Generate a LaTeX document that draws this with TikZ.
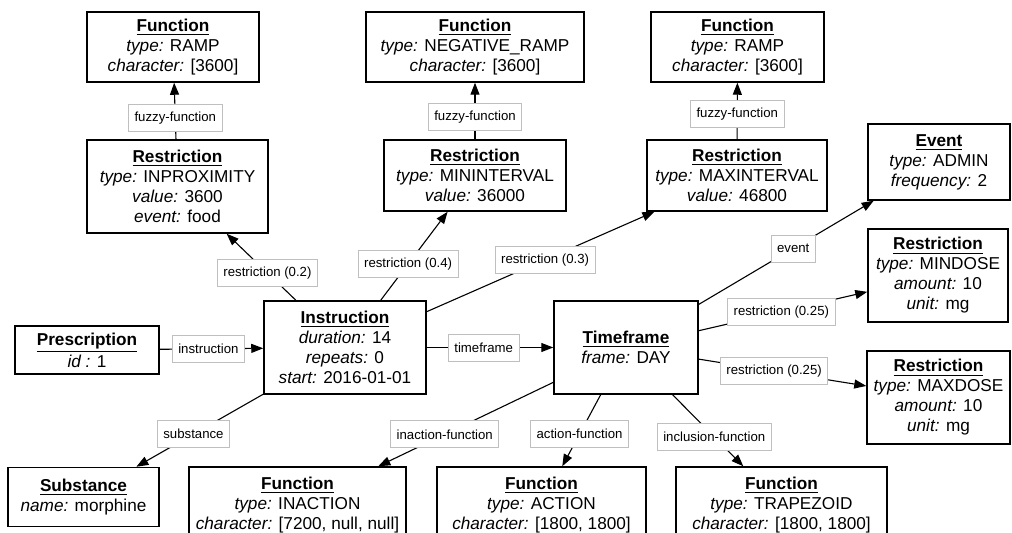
\documentclass[tikz,border=0pt]{standalone}
\usepackage{fontspec}
\setmainfont{Liberation Sans}
\usetikzlibrary{arrows.meta}

\newcommand{\head}[1]{\underline{\textbf{#1}}}
\tikzset{
  entity/.style={draw,line width=0.75pt,align=center,inner sep=0pt,
    font=\fontsize{8.6}{10}\selectfont},
  rel/.style={draw=black!25,fill=white,line width=0.4pt,inner xsep=3pt,
    inner ysep=0pt,minimum height=13.5pt,font=\fontsize{6.6}{8}\selectfont},
  link/.style={line width=0.55pt,-{Triangle[length=6pt,width=4.5pt]}}
}

\begin{document}
\begin{tikzpicture}[x=0.5pt,y=-0.5pt]
\useasboundingbox (0,0) rectangle (1012,533);
\clip (0,0) rectangle (1012,533);

% top row: fuzzy functions
\node[entity,minimum width=86pt,minimum height=35pt] (fun1) at (173,47)
  {\head{Function}\\ \textit{type:} RAMP\\ \textit{character:} [3600]};
\node[entity,minimum width=109pt,minimum height=35pt] (fun2) at (475,47)
  {\head{Function}\\ \textit{type:} NEGATIVE\_RAMP\\ \textit{character:} [3600]};
\node[entity,minimum width=86.5pt,minimum height=35pt] (fun3) at (737.5,47)
  {\head{Function}\\ \textit{type:} RAMP\\ \textit{character:} [3600]};

% restrictions of the instruction
\node[entity,minimum width=90.5pt,minimum height=46.5pt] (res1) at (177.5,186.5)
  {\head{Restriction}\\ \textit{type:} INPROXIMITY\\ \textit{value:} 3600\\ \textit{event:} food};
\node[entity,minimum width=91pt,minimum height=35.5pt] (res2) at (475,175.5)
  {\head{Restriction}\\ \textit{type:} MININTERVAL\\ \textit{value:} 36000};
\node[entity,minimum width=90pt,minimum height=35.5pt] (res3) at (737,175.5)
  {\head{Restriction}\\ \textit{type:} MAXINTERVAL\\ \textit{value:} 46800};

% right column
\node[entity,minimum width=71pt,minimum height=38pt] (event) at (939,162)
  {\head{Event}\\ \textit{type:} ADMIN\\ \textit{frequency:} 2};
\node[entity,minimum width=70pt,minimum height=46.5pt] (mindose) at (938,275.5)
  {\head{Restriction}\\ \textit{type:} MINDOSE\\ \textit{amount:} 10\\ \textit{unit:} mg};
\node[entity,minimum width=71.5pt,minimum height=46.5pt] (maxdose) at (938.5,397.5)
  {\head{Restriction}\\ \textit{type:} MAXDOSE\\ \textit{amount:} 10\\ \textit{unit:} mg};

% middle row
\node[entity,minimum width=72pt,minimum height=24pt] (presc) at (87,350)
  {\head{Prescription}\\ \textit{id :} 1};
\node[entity,minimum width=81pt,minimum height=46.5pt] (instr) at (345,347.5)
  {\head{Instruction}\\ \textit{duration:} 14\\ \textit{repeats:} 0\\ \textit{start:} 2016-01-01};
\node[entity,minimum width=72pt,minimum height=46.5pt] (frame) at (626,347.5)
  {\head{Timeframe}\\ \textit{frame:} DAY};

% bottom row
\node[entity,minimum width=75.5pt,minimum height=29.5pt] (subst) at (83.5,497)
  {\head{Substance}\\ \textit{name:} morphine};
\node[entity,minimum width=108.5pt,minimum height=38pt] (inaction) at (297.5,505)
  {\head{Function}\\ \textit{type:} INACTION\\ \textit{character:} [7200, null, null]};
\node[entity,minimum width=104.5pt,minimum height=38pt] (action) at (541.5,505)
  {\head{Function}\\ \textit{type:} ACTION\\ \textit{character:} [1800, 1800]};
\node[entity,minimum width=105.5pt,minimum height=38pt] (incl) at (781.5,505)
  {\head{Function}\\ \textit{type:} TRAPEZOID\\ \textit{character:} [1800, 1800]};

\draw[link] (res1) -- node[rel,pos=0.38] {fuzzy-function} (fun1);
\draw[link] (res2) -- node[rel,pos=0.4] {fuzzy-function} (fun2);
\draw[link] (res3) -- node[rel,pos=0.45] {fuzzy-function} (fun3);

\draw[link] (presc) -- node[rel,pos=0.47] {instruction} (instr);
\draw[link] (instr) -- node[rel,pos=0.41] {restriction (0.2)} (res1);
\draw[link] (instr) -- node[rel,pos=0.41] {restriction (0.4)} (res2);
\draw[link] (instr) -- node[rel,pos=0.52] {restriction (0.3)} (res3);
\draw[link] (instr) -- node[rel,pos=0.45] {timeframe} (frame);
\draw[link] (instr) -- node[rel,pos=0.55] {substance} (subst);

\draw[link] (frame) -- node[rel,pos=0.54] {event} (event);
\draw[link] (frame) -- node[rel,pos=0.49] {restriction (0.25)} (mindose);
\draw[link] (frame) -- node[rel,pos=0.45] {restriction (0.25)} (maxdose);
\draw[link] (frame) -- node[rel,pos=0.62] {inaction-function} (inaction);
\draw[link] (frame) -- node[rel,pos=0.55] {action-function} (action);
\draw[link] (frame) -- node[rel,pos=0.59] {inclusion-function} (incl);
%\draw[help lines] (0,0) grid[step=50] (1012,533);
\end{tikzpicture}
\end{document}
